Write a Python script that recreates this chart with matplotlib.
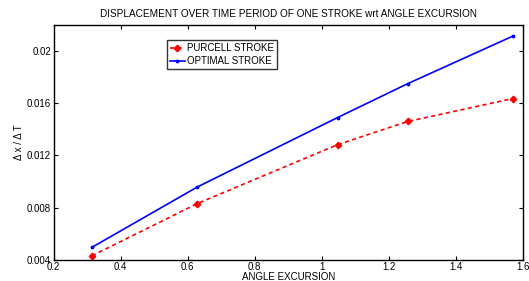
import matplotlib
matplotlib.use("Agg")
import matplotlib.pyplot as plt
import numpy as np

plt.rcParams['font.family'] = ['Liberation Sans', 'DejaVu Sans']

angle = [0.3142, 0.6283, 1.0472, 1.2566, 1.5708]
purcell = [0.0043, 0.0083, 0.01282, 0.0146, 0.01636]
optimal = [0.00495, 0.00957, 0.0149, 0.0175, 0.02115]
xticks = [0.2, 0.4, 0.6, 0.8, 1.0, 1.2, 1.4, 1.6]
xticklabels = ["0.2", "0.4", "0.6", "0.8", "1", "1.2", "1.4", "1.6"]
yticks = [0.004, 0.008, 0.012, 0.016, 0.02]
yticklabels = ["0.004", "0.008", "0.012", "0.016", "0.02"]

fig = plt.figure(figsize=(5.29, 2.81), dpi=100)
ax = fig.add_axes([53.7/529, 1-259.7/281, 469/529, 234.7/281])

ax.plot(angle, purcell, color='red', linestyle='--', dashes=(2.5, 2), linewidth=1.2,
        marker='D', markersize=3.3, label='PURCELL STROKE')
ax.plot(angle, optimal, color='blue', linestyle='-', linewidth=1.2,
        marker='.', markersize=3.5, label='OPTIMAL STROKE')

ax.set_xlim(0.2, 1.6)
ax.set_ylim(0.004, 0.022)
ax.set_xticks(xticks)
ax.set_xticklabels(xticklabels)
ax.set_yticks(yticks)
ax.set_yticklabels(yticklabels)
ax.tick_params(direction='in', top=True, right=True, labelsize=7, length=3, pad=2)
for s in ax.spines.values():
    s.set_linewidth(1.0)

ax.set_title('DISPLACEMENT OVER TIME PERIOD OF ONE STROKE wrt ANGLE EXCURSION', fontsize=7.2, pad=6)
ax.set_xlabel('ANGLE EXCURSION', fontsize=7, labelpad=0)
ax.set_ylabel('Δ x / Δ T', fontsize=7, labelpad=2)

leg = ax.legend(loc='upper left', bbox_to_anchor=(0.241, 0.935), fontsize=7, frameon=True,
                fancybox=False, edgecolor='black', handlelength=1.6, handletextpad=0.2,
                borderpad=0.3, labelspacing=0.3, borderaxespad=0)
leg.get_frame().set_linewidth(1.0)

fig.savefig('out.png', dpi=100)
